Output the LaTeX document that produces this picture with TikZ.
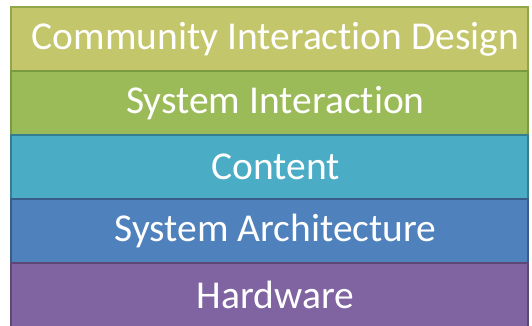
\documentclass[tikz,border=0pt]{standalone}
\usepackage{fontspec}
\setmainfont{Carlito}[Ligatures={NoCommon}]
\usetikzlibrary{positioning}
\definecolor{cidfill}{HTML}{C3C66B}
\definecolor{ciddraw}{HTML}{8FA64A}
\definecolor{sifill}{HTML}{9BBB59}
\definecolor{sidraw}{HTML}{7A9A3F}
\definecolor{contfill}{HTML}{4BACC6}
\definecolor{contdraw}{HTML}{357D91}
\definecolor{archfill}{HTML}{4F81BD}
\definecolor{archdraw}{HTML}{385D8A}
\definecolor{hwfill}{HTML}{8064A2}
\definecolor{hwdraw}{HTML}{5C4776}
\tikzset{
  layer/.style={rectangle, line width=1.6pt, outer sep=0pt, inner sep=0pt,
    minimum width=517pt, minimum height=64pt, text=white,
    font=\fontsize{39.5}{44}\selectfont,
    execute at begin node=\hspace*{12pt}}
}
\begin{document}
\begin{tikzpicture}
\useasboundingbox (0,0) rectangle (532pt,-326pt);
\node [layer, fill=cidfill, draw=ciddraw] (cid) at (269.5pt,-39pt) {Community Interaction Design};
\node [layer, fill=sifill, draw=sidraw, below=0pt of cid] (si) {System Interaction};
\node [layer, fill=contfill, draw=contdraw, below=0pt of si] (cont) {Content};
\node [layer, fill=archfill, draw=archdraw, below=0pt of cont] (arch) {System Architecture};
\node [layer, fill=hwfill, draw=hwdraw, below=0pt of arch] (hw) {Hardware};
\end{tikzpicture}
\end{document}
